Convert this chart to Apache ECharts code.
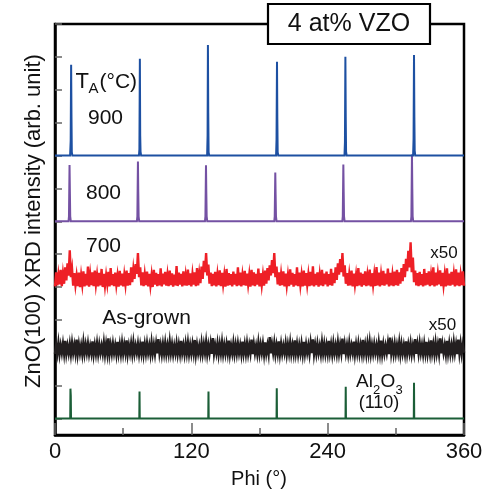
<!DOCTYPE html>
<html><head><meta charset="utf-8">
<script src="https://cdn.jsdelivr.net/npm/echarts@6/dist/echarts.min.js"></script>
<style>html,body{margin:0;padding:0;background:#fff}#c{width:492px;height:494px}</style>
</head><body><div id="c"></div>
<script>
// x axis
const xMin = 0, xMax = 360, xStep = 120;
// y tick positions (arb. unit, baselines every 2)
const yTicks = [0,1,2,3,4,5,6,7,8,9,10,11,12];
// trace labels
const traceNames = ['Al2O3 (110)', 'As-grown', '700', '800', '900'];
const traceOffsets = [0, 2, 4, 6, 8];

// T_A = 900 °C  [phi, intensity]
const t900 = [[0,0],[13.3,0],[13.8,0.45],[14.2,2.76],[14.5,1.2],[14.8,0.1],[15.3,0],
 [73.9,0],[74.3,0.2],[74.7,2.94],[75.0,0.6],[75.3,0.12],[75.8,0],
 [133.9,0],[134.3,0.6],[134.6,3.36],[134.9,1.3],[135.2,0.1],[135.7,0],
 [194.6,0],[195.0,0.5],[195.4,2.85],[195.7,1.1],[196.0,0.1],[196.5,0],
 [254.8,0],[255.2,0.4],[255.6,3.0],[255.9,1.2],[256.2,0.12],[256.7,0],
 [315.2,0],[315.6,0.5],[316.0,3.06],[316.3,1.2],[316.6,0.15],[317.1,0],[360,0]];

// T_A = 800 °C
const t800 = [[0,0],[11.9,0],[12.3,0.15],[12.8,1.71],[13.1,0.9],[13.4,0.15],[13.9,0],
 [72.1,0],[72.5,0.15],[73.0,1.82],[73.3,0.9],[73.6,0.15],[74.1,0],
 [132.0,0],[132.4,0.15],[132.9,1.70],[133.2,0.85],[133.5,0.15],[134.0,0],
 [193.0,0],[193.4,0.15],[193.9,1.48],[194.2,0.8],[194.5,0.15],[195.0,0],
 [252.9,0],[253.3,0.15],[253.8,1.73],[254.1,0.9],[254.4,0.15],[254.9,0],
 [313.3,0],[313.7,0.15],[314.2,2.03],[314.5,1.0],[314.8,0.15],[315.3,0],[360,0]];

// T_A = 700 °C (x50), one value per degree 0..360
const t700 = [
 .02,.45,.05,.38,.08,.52,.03,.41,.1,.6,.2,.72,.35,1.12,.3,.55,.04,.42,.06,.35,
 .03,.44,0,.36,.07,.48,.02,.4,.05,.62,.01,.38,.06,.45,.03,.5,.08,.37,.02,.43,
 .05,.55,0,.4,.04,.36,.09,.46,.02,.58,.06,.39,.03,.44,.07,.35,.01,.49,.05,.41,
 .02,.37,.08,.5,.04,.42,.06,.6,.15,.55,.25,.7,.4,1.03,.3,.6,.05,.45,.03,.38,
 .06,.47,.02,.4,.05,.36,0,.52,.07,.43,.03,.39,.05,.57,.02,.41,.08,.46,.04,.37,
 .03,.5,.06,.42,.01,.38,.05,.64,.03,.44,.07,.4,.02,.48,.05,.36,.04,.53,.06,.42,
 .02,.39,.07,.45,.03,.58,.05,.41,.12,.62,.25,.8,.45,1.03,.35,.68,.1,.44,.03,.4,
 .05,.46,.02,.38,.06,.51,.03,.43,.08,.37,.01,.55,.04,.42,.06,.39,.02,.47,.07,.4,
 .03,.6,.05,.44,.02,.36,.06,.49,.04,.41,.08,.38,.01,.52,.05,.45,.03,.4,.07,.56,
 .02,.42,.06,.37,.04,.5,.1,.58,.2,.66,.35,.82,.42,1.03,.3,.62,.08,.45,.04,.39,
 .06,.48,.02,.41,.05,.36,.03,.54,.07,.43,.01,.39,.05,.6,.03,.44,.06,.37,.02,.5,
 .04,.42,.07,.38,.03,.46,.05,.63,.02,.4,.06,.45,.01,.37,.05,.52,.03,.41,.08,.47,
 .02,.39,.06,.55,.04,.43,.12,.6,.22,.72,.38,.85,.45,1.03,.32,.66,.1,.42,.04,.38,
 .05,.5,.02,.41,.07,.37,.03,.58,.05,.44,.01,.4,.06,.48,.03,.36,.05,.53,.02,.42,
 .07,.39,.03,.61,.05,.44,.02,.38,.06,.49,.04,.41,.08,.56,.02,.43,.05,.37,.03,.47,
 .06,.52,.04,.45,.1,.58,.18,.7,.3,.86,.48,1.1,.6,1.36,.45,.9,.15,.5,.05,.42,
 .03,.46,.06,.39,.02,.55,.05,.42,.07,.48,.03,.37,.06,.6,.02,.44,.05,.4,.08,.51,
 .03,.43,.06,.38,.02,.57,.05,.41,.04,.46,.07,.39,.02,.54,.05,.44,.03,.37,.06,.48,.04];

// As-grown (x50), one value per degree 0..360
const asGrown = [
 -.03,.24,-.01,.3,-.04,.22,0,.27,-.02,.36,-.03,.21,-.01,.26,-.04,.29,0,.23,-.02,.4,
 -.03,.25,-.01,.22,-.04,.31,-.02,.24,0,.27,-.03,.2,-.01,.35,-.04,.23,-.02,.28,-.03,.25,
 0,.21,-.02,.3,-.04,.26,-.01,.44,-.03,.23,-.02,.27,0,.22,-.04,.33,-.01,.25,-.03,.29,
 -.02,.24,0,.38,-.04,.22,-.01,.27,-.03,.3,-.02,.21,0,.26,-.04,.23,-.01,.34,-.03,.25,
 -.02,.28,0,.22,-.04,.31,-.01,.24,-.03,.27,-.02,.42,0,.23,-.04,.26,-.01,.29,-.03,.22,
 -.02,.33,0,.25,-.04,.21,-.01,.28,-.03,.24,-.02,.36,0,.22,-.04,.27,-.01,.3,-.03,.23,
 -.02,.26,0,.39,-.04,.24,-.01,.21,-.03,.29,-.02,.25,0,.32,-.04,.23,-.01,.27,-.03,.45,
 -.02,.22,0,.28,-.04,.25,-.01,.31,-.03,.23,-.02,.26,0,.37,-.04,.21,-.01,.29,-.03,.24,
 -.02,.27,0,.22,-.04,.34,-.01,.25,-.03,.28,-.02,.23,0,.4,-.04,.26,-.01,.21,-.03,.3,
 -.02,.24,0,.27,-.04,.32,-.01,.22,-.03,.48,-.02,.25,0,.29,-.04,.23,-.01,.35,-.03,.26,
 -.02,.21,0,.28,-.04,.24,-.01,.3,-.03,.22,-.02,.38,0,.26,-.04,.23,-.01,.27,-.03,.33,
 -.02,.25,0,.22,-.04,.29,-.01,.41,-.03,.24,-.02,.27,0,.21,-.04,.31,-.01,.26,-.03,.23,
 -.02,.36,0,.25,-.04,.28,-.01,.22,-.03,.3,-.02,.24,0,.43,-.04,.26,-.01,.23,-.03,.29,
 -.02,.21,0,.34,-.04,.25,-.01,.27,-.03,.22,-.02,.39,0,.24,-.04,.28,-.01,.32,-.03,.23,
 -.02,.26,0,.22,-.04,.3,-.01,.37,-.03,.25,-.02,.21,0,.28,-.04,.46,-.01,.24,-.03,.27,
 -.02,.23,0,.31,-.04,.26,-.01,.22,-.03,.35,-.02,.24,0,.28,-.04,.21,-.01,.42,-.03,.25,
 -.02,.29,0,.23,-.04,.27,-.01,.33,-.03,.22,-.02,.38,0,.25,-.04,.3,-.01,.24,-.03,.44,
 -.02,.26,0,.22,-.04,.36,-.01,.27,-.03,.23,-.02,.31,0,.25,-.04,.4,-.01,.28,-.03,.24,0];

// Al2O3 (110) substrate
const al2o3 = [[0,0],[13.4,0],[13.6,0.91],[13.9,0.7],[14.1,0],[74.2,0],[74.4,0.82],[74.6,0],
 [134.9,0],[135.1,0.82],[135.3,0],[195.0,0],[195.2,0.92],[195.4,0],[255.7,0],[255.9,0.97],[256.1,0],
 [315.8,0],[316.0,1.09],[316.2,0],[360,0]];

const FONT = '"Liberation Sans", Arial, sans-serif';
const chart = echarts.init(document.getElementById('c'), null, {renderer: 'canvas'});

function shiftPairs(arr, off) { return arr.map(p => [p[0], p[1] + off]); }
function denseToPairs(arr, off) {
  const step = (xMax - xMin) / (arr.length - 1);
  return arr.map((v, i) => [xMin + i * step, v + off]);
}

const colors = ['#1b5e37', '#231f20', '#ee1f26', '#7451a3', '#1d50a2'];
const datasets = [
  shiftPairs(al2o3, traceOffsets[0]),
  denseToPairs(asGrown, traceOffsets[1]),
  denseToPairs(t700, traceOffsets[2]),
  shiftPairs(t800, traceOffsets[3]),
  shiftPairs(t900, traceOffsets[4])
];
const widths = [2, 2.5, 2.4, 2, 2];

const series = datasets.map((d, i) => ({
  name: traceNames[i], type: 'line', data: d, showSymbol: false, symbol: 'none',
  lineStyle: {color: colors[i], width: widths[i], join: 'miter'}, itemStyle: {color: colors[i]},
  silent: true, z: 2 + i
}));

function txt(x, y, s, size, opts, extra) {
  return Object.assign({type: 'text', x: x, y: y, z: 100,
    style: Object.assign({text: s, font: size + 'px ' + FONT, fill: '#111',
      textAlign: 'left', textVerticalAlign: 'middle'}, opts || {})}, extra || {});
}

chart.setOption({
  animation: false,
  grid: {left: 55, right: 28, top: 24, bottom: 59, show: true, borderColor: '#000', borderWidth: 2.5, backgroundColor: 'transparent'},
  xAxis: {type: 'value', min: xMin, max: xMax, interval: xStep,
    axisLine: {onZero: false, lineStyle: {color: '#000', width: 2.5}},
    axisTick: {inside: true, length: 12, lineStyle: {color: '#666', width: 1.5}},
    minorTick: {show: true, splitNumber: 2, length: 7, lineStyle: {color: '#666', width: 1.5}},
    axisLabel: {fontSize: 22, color: '#111', fontFamily: FONT, margin: 6},
    splitLine: {show: false}},
  yAxis: {type: 'value', min: -0.5, max: 12,
    axisLine: {show: true, onZero: false, lineStyle: {color: '#000', width: 2.5}},
    axisTick: {show: true, inside: true, length: 7, customValues: yTicks, lineStyle: {color: '#666', width: 1.5}},
    axisLabel: {show: false}, splitLine: {show: false}},
  series: series,
  graphic: [
    {type: 'rect', shape: {x: 268, y: 4, width: 162, height: 40}, z: 100,
     style: {fill: '#fff', stroke: '#000', lineWidth: 2.2}},
    txt(349, 24, '4 at% VZO', 25, {textAlign: 'center'}),
    txt(34, 221, 'ZnO(100) XRD intensity (arb. unit)', 22, {textAlign: 'center'}, {rotation: Math.PI / 2}),
    txt(259, 479, 'Phi (°)', 20, {textAlign: 'center'}),
    txt(75.5, 82, 'T', 22),
    txt(88.5, 89, 'A', 15),
    txt(99.5, 82, '(°C)', 21),
    txt(105.5, 118.5, '900', 21, {textAlign: 'center'}),
    txt(103.5, 193, '800', 21, {textAlign: 'center'}),
    txt(103.5, 246.5, '700', 21, {textAlign: 'center'}),
    txt(146.5, 318.5, 'As-grown', 21, {textAlign: 'center'}),
    txt(444, 253, 'x50', 17, {textAlign: 'center'}),
    txt(442.5, 325, 'x50', 17, {textAlign: 'center'}),
    txt(356, 382, 'Al', 19),
    txt(373, 390, '2', 13),
    txt(380.5, 382, 'O', 19),
    txt(395.5, 390, '3', 13),
    txt(379, 403, '(110)', 18, {textAlign: 'center'})
  ]
});
</script>
</body></html>
